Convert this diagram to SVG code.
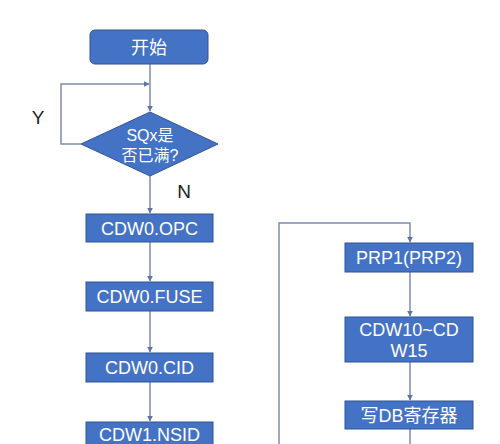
<svg xmlns="http://www.w3.org/2000/svg" width="500" height="444" viewBox="0 0 500 444">
<style>
.n{fill:#4472C4;stroke:#2F5597;stroke-width:1}
.t{fill:#fff;font-family:"Liberation Sans","Noto Sans CJK SC",sans-serif;font-size:18px;text-anchor:middle}
.c{fill:none;stroke:#7D8DB0;stroke-width:1.5}
.l{fill:#222;font-family:"Liberation Sans",sans-serif;font-size:19px;text-anchor:middle}
</style>
<defs>
<marker id="a" viewBox="0 0 10 10" refX="9" refY="5" markerWidth="6" markerHeight="6" orient="auto" markerUnits="userSpaceOnUse">
<path d="M0,0L10,5L0,10z" fill="#5E73A3"/>
</marker>
</defs>
<rect width="500" height="444" fill="#fff"/>
<g id="connectors">
<path class="c" d="M150,64V111" marker-end="url(#a)"/>
<path class="c" d="M81,144H61V84H149" marker-end="url(#a)"/>
<path class="c" d="M150,176V213" marker-end="url(#a)"/>
<path class="c" d="M150,242V281" marker-end="url(#a)"/>
<path class="c" d="M150,311V352" marker-end="url(#a)"/>
<path class="c" d="M150,382V421" marker-end="url(#a)"/>
<path class="c" d="M279,444V223H410V242" marker-end="url(#a)"/>
<path class="c" d="M410,272V316" marker-end="url(#a)"/>
<path class="c" d="M410,362V400" marker-end="url(#a)"/>
<path class="c" d="M410,429V444"/>
<text class="l" x="38" y="124">Y</text>
<text class="l" x="184" y="198">N</text>
</g>
<g id="start">
<rect class="n" x="90" y="30" width="118" height="34" rx="5"/>
<text class="t" x="149" y="54">开始</text>
</g>
<g id="decision">
<path class="n" d="M150,112L218,144L150,176L81,144z"/>
<text class="t" x="150" y="141" style="font-size:16px">SQx是</text>
<text class="t" x="150" y="161" style="font-size:16px">否已满?</text>
</g>
<g id="opc">
<rect class="n" x="86" y="214" width="127" height="28"/>
<text class="t" x="149.500" y="234.500">CDW0.OPC</text>
</g>
<g id="fuse">
<rect class="n" x="86" y="282" width="127" height="29"/>
<text class="t" x="149.500" y="303">CDW0.FUSE</text>
</g>
<g id="cid">
<rect class="n" x="86" y="353" width="127" height="29"/>
<text class="t" x="149.500" y="374">CDW0.CID</text>
</g>
<g id="nsid">
<rect class="n" x="86" y="422" width="127" height="30"/>
<text class="t" x="149.500" y="441">CDW1.NSID</text>
</g>
<g id="prp">
<rect class="n" x="345" y="243" width="128" height="29"/>
<text class="t" x="409" y="264">PRP1(PRP2)</text>
</g>
<g id="cdw10">
<rect class="n" x="345" y="317" width="128" height="45"/>
<text class="t" x="409" y="336">CDW10~CD</text>
<text class="t" x="409" y="357">W15</text>
</g>
<g id="db">
<rect class="n" x="345" y="401" width="128" height="28"/>
<text class="t" x="409" y="421.500">写DB寄存器</text>
</g>
</svg>
